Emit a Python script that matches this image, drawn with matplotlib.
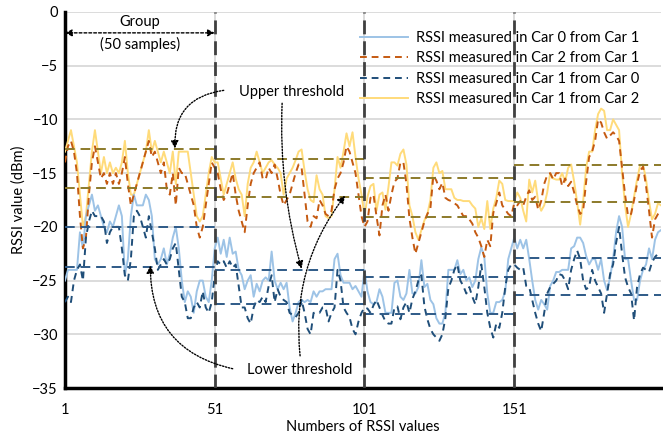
import matplotlib
matplotlib.use("Agg")
import matplotlib.pyplot as plt
import numpy as np

plt.rcParams['font.family'] = ['Lato', 'DejaVu Sans']

# ---------------- data ----------------
samples = list(range(1, 201))

car1_from_car2 = [  # yellow solid
    -13, -12, -11, -12.5, -14, -17, -20, -19, -16, -13, -11, -13, -15, -13.5, -15, -14, -15, -14.5, -15, -14,
    -12, -15, -17, -17, -16, -15, -14, -13, -11, -13, -12, -13, -14, -13, -14, -15, -13, -16, -13, -13,
    -13, -13, -15, -17, -19, -19.5, -19, -17, -15, -13.5, -14,
    -14, -15.5, -17, -16, -15, -14, -15.5, -16.5, -17, -19, -16, -14.5, -14, -13, -14, -15,
    -14.5, -14, -13.8, -14.2, -14.5, -15, -17, -15.5, -15, -14.5, -13.8, -13, -12.8, -14.8, -16.5, -17.5, -17.7,
    -15.2, -16.5, -17, -19, -19.2, -19, -16.5, -13.5, -14.5, -13, -11.3, -12.5, -11.2, -13.5, -15.5, -17, -19,
    -17.2, -16.2, -16, -18.5, -17, -16.8, -18.4, -16.3, -14, -14, -14.3, -13.2, -12.8, -14.2, -18, -19, -20.5,
    -21.2, -20.3, -19.4, -18.8, -17.5, -14.5, -14, -15, -14.8, -16.5, -16.5, -16.5, -17.3, -17.5, -17.5, -17.6,
    -17.6, -17.6, -18, -18.3, -20, -19.2, -20.2, -17.6, -20.2, -18.3, -17.3, -15.7, -16, -17.5, -17.6, -17.6, -17.6,
    -16.8, -17.3, -18.5, -19.5, -15.6, -16.8, -15.7, -17.7, -18.5, -18, -16.8,
    -15, -15.5, -15.6, -15.6, -15, -15.8, -14.5, -14.2, -15.8, -17.7, -19.8, -17.6, -14.5, -13, -13, -11, -9.5,
    -9, -9.2, -11, -11, -10, -10.5, -11, -15, -18, -20, -18.8, -17.2, -15.6, -14.3, -14.2, -15.6, -17.6, -19.3,
    -18.8, -17.8, -18,
]

car2_from_car1 = [  # orange dashed
    -14, -12.5, -12, -13, -15, -19, -22, -21, -17, -14, -12.5, -14, -15.5, -15, -16, -15, -16, -15, -16, -15,
    -13.5, -16, -18, -17, -16, -15, -14, -13, -12, -13.5, -13, -14, -15, -14, -16.5, -17, -15, -18, -14.5, -15,
    -15, -16, -17, -18, -20, -21, -20, -18, -16, -14, -14.5,
    -15, -16.5, -17.5, -17, -16, -15, -17, -18.5, -19.5, -20.5, -18, -16, -15, -14.5, -14, -15.5,
    -15.6, -14.5, -15, -14.2, -15.5, -17, -18, -17.5, -17, -16, -15, -14.2, -14.5, -17, -19.5, -20, -19,
    -19.2, -17.5, -18, -18.8, -19, -18.5, -16.5, -15.5, -15, -14, -12.5, -13, -14, -15, -17, -19, -20,
    -19.5, -17.3, -17, -19, -20.8, -18, -17, -18.5, -17, -15.8, -15.5, -14, -14, -16, -19.2, -21, -22.5,
    -21.5, -20.5, -19.5, -18.8, -18.3, -15.2, -15.7, -16.5, -15.9, -17.3, -17.5, -17.6, -17.8, -18, -18.5, -19,
    -19, -19.3, -19.7, -20.5, -21, -21.8, -22.8, -21.2, -21.8, -18.7, -17.8, -16.8, -18, -18.4, -18.8, -19, -17.8,
    -18, -17.6, -18, -17.2, -16.6, -17.5, -17.2, -18.4, -17.6, -16, -15.2,
    -15, -15.6, -15, -15, -16.2, -15.5, -16.2, -15.8, -16.8, -18, -18.8, -18.5, -15.8, -13.5, -13, -12, -10,
    -10.3, -11.2, -11.8, -11.5, -11.2, -11.5, -12, -14.5, -17, -19, -18.8, -17.5, -16, -14.8, -14.4, -16.2,
    -18.5, -21, -19.3, -18.8, -18.4,
]

car0_from_car1 = [  # light blue solid
    -25, -24, -24, -24, -24, -20.5, -22, -19, -18, -17, -18.5, -18, -19, -20, -20.5, -19.5, -20, -19, -18, -19,
    -24.5, -23, -19, -17, -18, -18, -18, -17, -17.5, -19, -23, -23.5, -23, -22, -23.5, -22.5, -21, -20, -22, -25,
    -27, -26, -26.5, -28, -26, -25, -25, -26.5, -27, -25, -22,
    -21, -22.5, -21.2, -22.8, -21, -22.5, -22.3, -24, -24.5, -25.8, -25, -24.5, -26.5, -25.3, -26, -25,
    -24.7, -25, -22.3, -25, -25.8, -25.2, -25.8, -25.2, -27.5, -28.8, -28, -27, -26.8, -27, -26.8, -27, -26,
    -26.5, -26, -26, -25.8, -25.8, -25.8, -23, -22.5, -24.5, -25.2, -25.2, -25.2, -25.8, -25.5, -26, -26.5, -24,
    -26, -27, -27.2, -27, -25.8, -26.5, -28, -28, -28, -25.2, -25, -26.5, -26.8, -26.2, -24, -26.2, -26.2,
    -25.6, -23.1, -25.6, -25.3, -26.8, -27.2, -28.5, -29, -29, -28, -24, -24, -24, -23.1, -24.4, -24,
    -25, -24.7, -25.6, -25, -23, -21.9, -22.8, -26.2, -28, -28, -27, -27, -26.8, -26, -23, -22, -21,
    -22, -21.2, -22, -21.2, -23, -25, -26.8, -27.7, -26.8, -27.2, -27.7, -25.5, -25, -24.2, -24.2, -24,
    -24, -24, -22, -21.8, -21, -21, -21.5, -22.7, -23.5, -23, -23, -24, -23, -25, -25.9, -24.7, -23, -20.5,
    -19, -20, -23, -23, -25, -26.8, -26.8, -25, -24, -23.5, -22, -23, -21.2, -20.5, -20.3,
]

car1_from_car0 = [  # dark blue dashed
    -27, -26.5, -27, -25, -24, -23.5, -25, -21, -19.5, -18.5, -19, -19, -19, -19.5, -21.5, -20.5, -20, -20, -20, -22,
    -24.5, -25, -23, -19, -18.5, -19, -20, -21, -19, -20.5, -22, -24, -23.5, -23, -23.5, -23, -22, -21.5, -24, -26.5,
    -27, -28.5, -28.5, -27.5, -27, -27.5, -26, -27.5, -28, -27, -24.5,
    -23.2, -23.5, -23.2, -23.8, -23.2, -23.8, -23.5, -25.5, -27.5, -27.5, -28.5, -29, -27.5, -26.8, -27, -26.5,
    -27, -25.5, -24.5, -27, -25.8, -26.5, -26.8, -27, -28, -28.2, -28.4, -28, -26.8, -28, -29.5, -30, -28,
    -28, -28, -27.5, -27.5, -28.8, -28, -27.5, -24, -25, -27.5, -28, -28.4, -29.5, -30, -28.8, -28, -27.5,
    -27.6, -28, -27.3, -26.8, -27.5, -28.2, -28.8, -29, -29, -27.5, -27.4, -28.6, -27.5, -27, -28, -26.7, -26,
    -25, -24.5, -27.4, -28.6, -29.5, -30, -30.3, -30.6, -30, -28.5, -25.7, -25, -24, -23.5, -25, -25.5,
    -26.2, -25.6, -26.5, -27.2, -25.6, -23.5, -25.6, -28, -29.4, -30.3, -29, -29.4, -28, -25.6, -24, -23.5, -23.5,
    -23.8, -24, -23.8, -25.5, -25.6, -26.8, -28, -29, -29.7, -28, -26.2, -25.6, -25.3, -25, -24.4, -24.5,
    -25, -25.8, -24, -23, -22.2, -23, -25, -25.8, -25.6, -24, -25, -25.6, -26.2, -28, -26.2, -24.4, -23.5,
    -21.5, -20, -22.5, -24.7, -25.6, -26.2, -28.7, -25.6, -24.4, -23.8, -24, -24.2, -23.3, -22.8, -22.5, -22.5,
]

group_starts = [1, 51, 101, 151]
group_ends = [51, 101, 151, 200]
upper_hi = [-12.8, -13.7, -15.5, -14.2]   # upper pair, upper threshold
upper_lo = [-16.4, -17.2, -19.1, -17.7]   # upper pair, lower threshold
lower_hi = [-20.0, -24.0, -24.7, -22.9]   # lower pair, upper threshold
lower_lo = [-23.7, -27.2, -28.1, -26.3]   # lower pair, lower threshold

xticks = [1, 51, 101, 151]
yticks = [0, -5, -10, -15, -20, -25, -30, -35]

labels = ["RSSI measured in Car 0 from Car 1",
          "RSSI measured in Car 2 from Car 1",
          "RSSI measured in Car 1 from Car 0",
          "RSSI measured in Car 1 from Car 2"]

FS = 10.5

# ---------------- figure ----------------
fig = plt.figure(figsize=(6.63, 4.41), dpi=100)
ax = fig.add_axes([0.098, 0.12, 0.899, 0.853])

ax.set_xlim(1, 200)
ax.set_ylim(-35, 0)
ax.set_yticks(yticks)
ax.set_xticks(xticks)
ax.yaxis.grid(True, color='#D9D9D9', lw=1.3)
ax.xaxis.grid(True, color='#D9D9D9', lw=1.3)
ax.set_axisbelow(True)
for s in ['top', 'right']:
    ax.spines[s].set_visible(False)
for s in ['left', 'bottom']:
    ax.spines[s].set_linewidth(2.5)
    ax.spines[s].set_color('black')
ax.tick_params(length=0, labelsize=FS, pad=5)
ax.tick_params(axis='x', pad=11)

x = np.array(samples)
c_lb, c_or, c_db, c_ye = '#9DC3E6', '#C55A11', '#1F4E79', '#FFDB7A'
ax.plot(x, car0_from_car1, color=c_lb, lw=1.4, label=labels[0], zorder=3)
ax.plot(x, car2_from_car1, color=c_or, lw=1.4, ls=(0, (3.5, 2.5)), label=labels[1], zorder=3)
ax.plot(x, car1_from_car0, color=c_db, lw=1.4, ls=(0, (3.5, 2.5)), label=labels[2], zorder=3)
ax.plot(x, car1_from_car2, color=c_ye, lw=1.4, label=labels[3], zorder=2.9)

olive = '#8C7A2A'
tblue = '#2E5A87'
for s, e, a, b, c, d in zip(group_starts, group_ends, upper_hi, upper_lo, lower_hi, lower_lo):
    ax.plot([s, e], [a, a], color=olive, lw=1.4, ls=(0, (5, 3)), zorder=4)
    ax.plot([s, e], [b, b], color=olive, lw=1.4, ls=(0, (5, 3)), zorder=4)
    ax.plot([s, e], [c, c], color=tblue, lw=1.4, ls=(0, (5, 3)), zorder=4)
    ax.plot([s, e], [d, d], color=tblue, lw=1.4, ls=(0, (5, 3)), zorder=4)

for xv in group_starts[1:]:
    ax.axvline(xv, color='#404040', lw=2.0, ls=(0, (5, 2.5)), zorder=5)

ax.set_ylabel("RSSI value (dBm)", fontsize=FS, labelpad=5)
ax.set_xlabel("Numbers of RSSI values", fontsize=FS, labelpad=2)

leg = ax.legend(loc='upper right', bbox_to_anchor=(0.985, 0.985), frameon=False,
                fontsize=FS, handlelength=3.3, labelspacing=0.45, handletextpad=0.5)

# group annotation
ax.annotate('', xy=(1, -1.95), xytext=(51, -1.95),
            arrowprops=dict(arrowstyle='<|-|>', ls=(0, (2, 1.5)), color='black', lw=1.0,
                            mutation_scale=10, shrinkA=0, shrinkB=0), zorder=6)
ax.text(26, -0.95, "Group", ha='center', va='center', fontsize=FS)
ax.text(26, -3.05, "(50 samples)", ha='center', va='center', fontsize=FS)

# threshold annotations
ax.text(76.5, -7.45, "Upper threshold", ha='center', va='center', fontsize=FS)
ax.text(79.5, -33.3, "Lower threshold", ha='center', va='center', fontsize=FS)

ap = dict(arrowstyle='-|>', ls=(0, (1, 1.2)), color='black', lw=1.0, mutation_scale=11,
          shrinkA=0, shrinkB=0)
ax.annotate('', xy=(37.7, -12.7), xytext=(54.0, -7.3),
            arrowprops=dict(ap, connectionstyle='arc3,rad=0.45'), zorder=6)
ax.annotate('', xy=(80, -23.9), xytext=(73.5, -8.5),
            arrowprops=dict(ap, connectionstyle='arc3,rad=0.08'), zorder=6)
ax.annotate('', xy=(29.5, -23.6), xytext=(57.0, -33.2),
            arrowprops=dict(ap, connectionstyle='arc3,rad=-0.4'), zorder=6)
ax.annotate('', xy=(94.5, -17.1), xytext=(79.5, -32.0),
            arrowprops=dict(ap, connectionstyle='arc3,rad=-0.2'), zorder=6)

fig.savefig('out.png', dpi=100)
